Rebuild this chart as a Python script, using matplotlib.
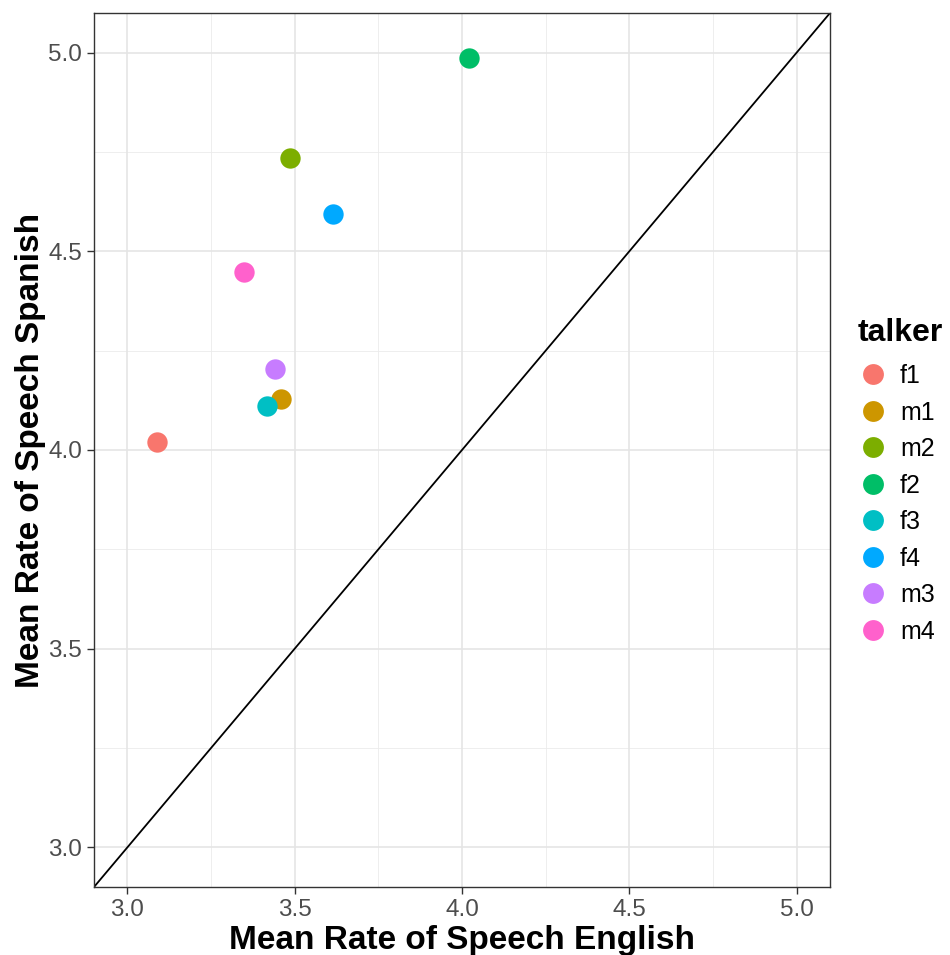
import matplotlib.pyplot as plt
from matplotlib.lines import Line2D

# data
talkers = ['f1', 'm1', 'm2', 'f2', 'f3', 'f4', 'm3', 'm4']
english = [3.087, 3.460, 3.487, 4.021, 3.418, 3.615, 3.442, 3.349]
spanish = [4.020, 4.128, 4.736, 4.986, 4.110, 4.595, 4.204, 4.447]
colors = ['#F8766D', '#CD9600', '#7CAE00', '#00BE67', '#00BFC4', '#00A9FF', '#C77CFF', '#FF61CC']

plt.rcParams['font.family'] = ['Liberation Sans', 'DejaVu Sans']

fig = plt.figure(figsize=(9.5, 9.55), dpi=100)
ax = fig.add_axes([94/950, 68/955, 736/950, 874/955])

ax.set_xlim(2.9, 5.1)
ax.set_ylim(2.9, 5.1)

# grid, major and minor like theme_bw
major = [3.0, 3.5, 4.0, 4.5, 5.0]
minor = [3.25, 3.75, 4.25, 4.75]
for v in minor:
    ax.axvline(v, color='#EBEBEB', lw=0.6, zorder=0)
    ax.axhline(v, color='#EBEBEB', lw=0.6, zorder=0)
for v in major:
    ax.axvline(v, color='#E5E5E5', lw=1.2, zorder=0)
    ax.axhline(v, color='#E5E5E5', lw=1.2, zorder=0)

ax.plot([2.9, 5.1], [2.9, 5.1], color='black', lw=1.3, zorder=1)

for t, x, y, c in zip(talkers, english, spanish, colors):
    ax.scatter(x, y, s=215, color=c, zorder=3, linewidths=0)

ax.set_xticks(major)
ax.set_yticks(major)
ax.set_xticklabels(['%.1f' % v for v in major])
ax.set_yticklabels(['%.1f' % v for v in major])
ax.tick_params(labelsize=17.5, labelcolor='#4D4D4D', color='#333333', length=5, width=1)
for s in ax.spines.values():
    s.set_color('#333333')
    s.set_linewidth(1.0)

ax.set_xlabel('Mean Rate of Speech English', fontsize=24, fontweight='bold', labelpad=3)
ax.set_ylabel('Mean Rate of Speech Spanish', fontsize=24, fontweight='bold', labelpad=2)

handles = [Line2D([], [], marker='o', linestyle='', markersize=15, color=c, markeredgewidth=0) for c in colors]
leg = fig.legend(handles, talkers, title='talker', loc='upper left',
                 bbox_to_anchor=(845/950, 1 - 305/955), frameon=False,
                 fontsize=18, title_fontproperties={'size': 23, 'weight': 'bold'},
                 handletextpad=0.5, labelspacing=0.5, handlelength=1.2, borderpad=0)
leg._legend_box.align = 'left'
leg._legend_box.sep = 12

fig.savefig('out.png', dpi=100)
